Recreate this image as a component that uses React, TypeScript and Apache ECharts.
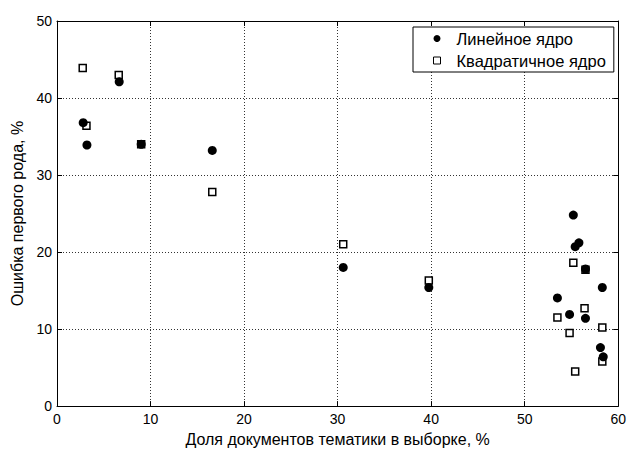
import React, { useEffect, useRef } from "react";
import * as echarts from "echarts";

const linearX = [2.8, 3.2, 6.65, 9.0, 16.6, 30.6, 39.75, 53.5, 54.8, 55.2, 55.4, 55.8, 56.5, 56.5, 58.1, 58.3, 58.4];
const linearY = [36.8, 33.9, 42.1, 34.0, 33.2, 18.0, 15.4, 14.05, 11.9, 24.8, 20.7, 21.2, 17.8, 11.4, 7.6, 15.4, 6.4];

const quadX = [2.75, 3.15, 6.6, 9.0, 16.6, 30.6, 39.75, 53.5, 54.8, 55.2, 55.4, 56.4, 56.5, 58.3, 58.3];
const quadY = [43.9, 36.4, 43.0, 34.0, 27.8, 21.0, 16.3, 11.5, 9.5, 18.6, 4.5, 12.7, 17.7, 10.2, 5.8];

const seriesNames = ["Линейное ядро", "Квадратичное ядро"];
const xTitle = "Доля документов тематики в выборке, %";
const yTitle = "Ошибка первого рода, %";

const FONT = "'Liberation Sans', Arial, sans-serif";

export default function App() {
  const ref = useRef<HTMLDivElement>(null);
  useEffect(() => {
    if (!ref.current) return;
    const chart = echarts.init(ref.current, null, { renderer: "svg" });
    const split = { show: true, lineStyle: { color: "#333", type: [1, 2] as any, width: 1 } };
    const tick = { show: true, inside: true, length: 5, lineStyle: { color: "#000" } };
    chart.setOption({
      animation: false,
      backgroundColor: "#fff",
      textStyle: { fontFamily: FONT },
      grid: { left: 57, right: 10, top: 21, bottom: 43, containLabel: false },
      legend: {
        data: [
          { name: seriesNames[0], icon: "circle", itemStyle: { color: "#000" } },
          { name: seriesNames[1], icon: "rect", itemStyle: { color: "#fff", borderColor: "#000", borderWidth: 1 } },
        ],
        orient: "vertical",
        left: 413,
        top: 27,
        padding: [3, 8, 3, 20],
        itemWidth: 7,
        itemHeight: 7,
        itemGap: 5,
        backgroundColor: "#fff",
        borderColor: "#000",
        borderWidth: 1,
        borderRadius: 0,
        textStyle: {
          fontFamily: FONT,
          fontSize: 16.5,
          color: "#000",
          lineHeight: 17,
          padding: [0, 0, 0, 11],
        },
      },
      xAxis: [
        {
          type: "value",
          min: 0,
          max: 60,
          interval: 10,
          name: xTitle,
          nameLocation: "middle",
          nameGap: 21,
          nameTextStyle: { fontSize: 16, color: "#000", fontFamily: FONT },
          axisLine: { show: true, onZero: false, lineStyle: { color: "#000" } },
          axisTick: tick,
          axisLabel: { fontSize: 14, color: "#000", margin: 6, fontFamily: FONT },
          splitLine: split,
        },
        {
          type: "value",
          position: "top",
          min: 0,
          max: 60,
          interval: 10,
          axisLine: { show: true, onZero: false, lineStyle: { color: "#000" } },
          axisTick: tick,
          axisLabel: { show: false },
          splitLine: { show: false },
        },
      ],
      yAxis: [
        {
          type: "value",
          min: 0,
          max: 50,
          interval: 10,
          name: yTitle,
          nameLocation: "middle",
          nameGap: 29,
          nameTextStyle: { fontSize: 16, color: "#000", fontFamily: FONT },
          axisLine: { show: true, onZero: false, lineStyle: { color: "#000" } },
          axisTick: tick,
          axisLabel: { fontSize: 14, color: "#000", margin: 5, fontFamily: FONT },
          splitLine: split,
        },
        {
          type: "value",
          position: "right",
          min: 0,
          max: 50,
          interval: 10,
          axisLine: { show: true, onZero: false, lineStyle: { color: "#000" } },
          axisTick: tick,
          axisLabel: { show: false },
          splitLine: { show: false },
        },
      ],
      series: [
        {
          name: seriesNames[1],
          type: "scatter",
          symbol: "rect",
          symbolSize: 7,
          itemStyle: { color: "#fff", borderColor: "#000", borderWidth: 1.5, opacity: 1 },
          data: quadX.map((x, i) => [x, quadY[i]]),
          z: 2,
        },
        {
          name: seriesNames[0],
          type: "scatter",
          symbol: "circle",
          symbolSize: 9,
          itemStyle: { color: "#000", opacity: 1 },
          data: linearX.map((x, i) => [x, linearY[i]]),
          z: 3,
        },
      ],
    });
    return () => chart.dispose();
  }, []);
  return (
    <div
      ref={ref}
      style={{ position: "fixed", left: 0, top: 0, width: 629, height: 452, background: "#fff" }}
    />
  );
}
